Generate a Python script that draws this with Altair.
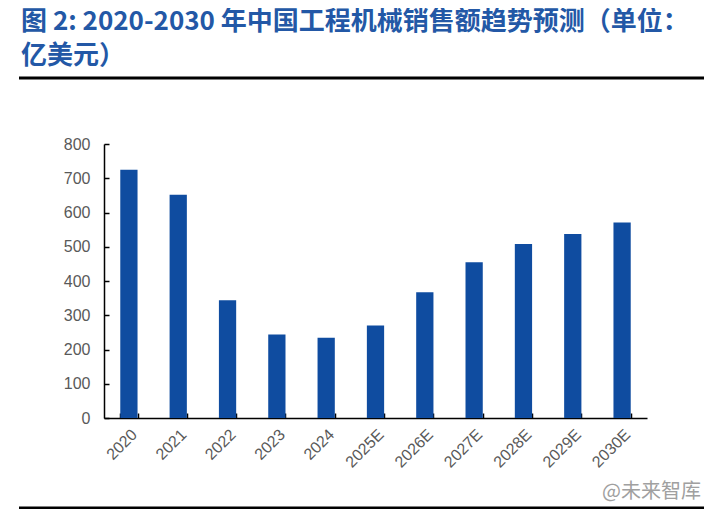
import altair as alt
import pandas as pd

categories = ["2020", "2021", "2022", "2023", "2024", "2025E", "2026E", "2027E", "2028E", "2029E", "2030E"]
values = [725, 652, 344, 244, 234, 270, 367, 455, 508, 537, 571]
y_ticks = [0, 100, 200, 300, 400, 500, 600, 700, 800]

title_line1 = "图 2: 2020-2030 年中国工程机械销售额趋势预测（单位："
title_line2 = "亿美元）"
watermark = "@未来智库"

df = pd.DataFrame({"year": categories, "value": values})

W, H = 543, 274
xscale = alt.Scale(paddingInner=0.65, paddingOuter=0.33)
yscale = alt.Scale(domain=[0, 800])

bars = alt.Chart(df).mark_bar(color="#0F4CA0").encode(
    x=alt.X("year:N", sort=categories, title=None, scale=xscale,
            axis=alt.Axis(labelAngle=-45, labelFontSize=16, labelColor="#595959",
                          labelFont="Liberation Sans", labelAlign="right", labelBaseline="top",
                          labelPadding=8, ticks=False,
                          domainColor="#000", domainWidth=1.5)),
    y=alt.Y("value:Q", title=None, scale=yscale,
            axis=alt.Axis(values=y_ticks, grid=False,
                          labelFontSize=16, labelColor="#595959", labelFont="Liberation Sans",
                          labelPadding=14, ticks=False, domainColor="#000",
                          domainWidth=1.5)),
)

# inward-pointing ticks via mirrored axes
tick_layer = alt.Chart(df).mark_bar(opacity=0).encode(
    x=alt.X("year:N", sort=categories, title=None, scale=xscale,
            axis=alt.Axis(orient="top", offset=-H, labels=False, domain=False,
                          tickBand="extent", tickSize=5, tickColor="#000", tickWidth=1.5)),
    y=alt.Y("value:Q", title=None, scale=yscale,
            axis=alt.Axis(orient="right", offset=-W, values=y_ticks, labels=False, domain=False,
                          grid=False, tickSize=5, tickColor="#000", tickWidth=1.5)),
)

one = alt.Data(values=[{"a": 1}])

t1 = alt.Chart(one).mark_text(align="left", baseline="middle", fontSize=26, fontWeight="bold",
                              font="Noto Sans CJK SC", color="#2358A6").encode(
    x=alt.value(-83), y=alt.value(-122), text=alt.value(title_line1))
t2 = alt.Chart(one).mark_text(align="left", baseline="middle", fontSize=26, fontWeight="bold",
                              font="Noto Sans CJK SC", color="#2358A6").encode(
    x=alt.value(-83), y=alt.value(-88), text=alt.value(title_line2))
topline = alt.Chart(one).mark_rule(color="#000", strokeWidth=3).encode(
    x=alt.value(-85), x2=alt.value(610), y=alt.value(-66))
botline = alt.Chart(one).mark_rule(color="#000", strokeWidth=3).encode(
    x=alt.value(-85), x2=alt.value(610), y=alt.value(364))
wm = alt.Chart(one).mark_text(align="left", baseline="middle", fontSize=20,
                              font="Noto Sans CJK SC", color="#A0A0A0").encode(
    x=alt.value(498), y=alt.value(348), text=alt.value(watermark))

chart = alt.layer(bars, tick_layer, t1, t2, topline, botline, wm).resolve_axis(
    x="independent", y="independent"
).properties(
    width=W, height=H,
    autosize=alt.AutoSizeParams(type="none"),
    padding={"left": 96, "top": 136, "right": 57, "bottom": 91},
).configure_view(stroke=None)

chart.save("out.html", embed_options={"renderer": "svg", "actions": False})
